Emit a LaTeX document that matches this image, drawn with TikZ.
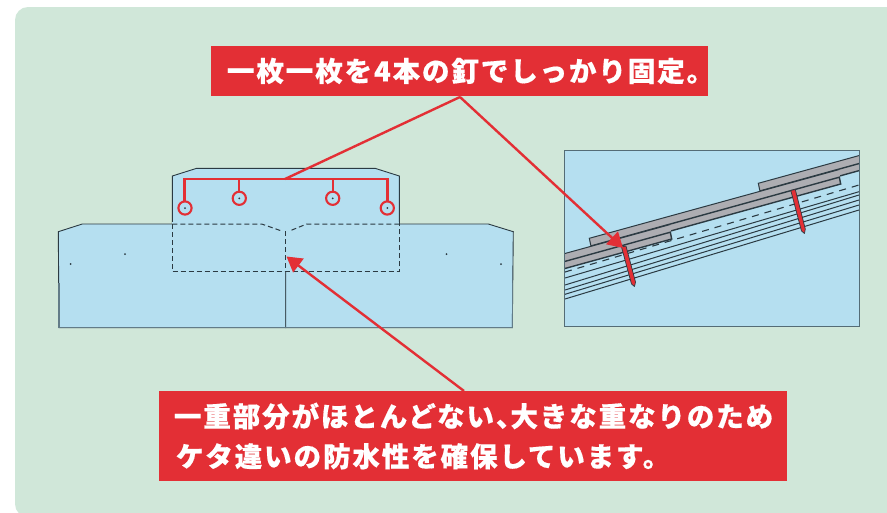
\documentclass[tikz,border=0pt]{standalone}
\usepackage{fontspec}
\newfontfamily\jpfont[LetterSpace=6.9,BoldFeatures={FakeBold=0.5}]{Noto Sans CJK JP}
\usetikzlibrary{arrows.meta}
\definecolor{panelgreen}{HTML}{D0E7D9}
\definecolor{tileblue}{HTML}{B5DFF0}
\definecolor{markred}{HTML}{E32F35}
\definecolor{slategray}{HTML}{ADADB2}
\definecolor{inkdark}{HTML}{2B3A42}
\tikzset{
	planline/.style={draw=inkdark, line width=0.9pt},
	hiddenline/.style={draw=inkdark, line width=1pt, dash pattern=on 5pt off 3pt},
	redline/.style={draw=markred, line width=2.4pt},
	redarrow/.style={redline, -{Triangle[length=15pt,width=17pt]}},
	notebox/.style={fill=markred, text=white, inner sep=0pt, font=\jpfont\bfseries\fontsize{27.5}{40}\selectfont},
	pinmark/.style={draw=markred, line width=2.1pt},
	nailbody/.style={fill=markred, draw=inkdark, line width=0.7pt, line join=round}
}
\def\pin(#1,#2){\draw[pinmark] (#1,#2) circle (6.6); \fill[inkdark] (#1,#2) circle (1);}
\def\tile(#1,#2){\begin{scope}[shift={(#1,#2)}]
	\fill[slategray] (589.3,238.3) -- (839.3,169.5) -- (840.7,184) -- (591,253) -- cycle;
	\draw[inkdark, line width=1pt] (591,246) -- (589.3,238.3) -- (839.3,169.5);
	\draw[inkdark, line width=1.4pt] (591,246) -- (839.3,177.2) -- (840.7,184) -- (591,253);
	\end{scope}}
\begin{document}
\begin{tikzpicture}[x=1pt, y=-1pt]
	\useasboundingbox (0,0) rectangle (887,512);
	\fill[white] (0,0) rectangle (887,512);
	\fill[panelgreen, rounded corners=13pt] (15,7) rectangle (930,517);

	%%%%% plan view %%%%%
	\filldraw[fill=tileblue, planline] (58.3,231.7) -- (82.3,224) -- (285.7,224) -- (285.7,327.7) -- (59,327.7) -- cycle;
	\filldraw[fill=tileblue, planline] (513.3,231.7) -- (488.3,224) -- (285.7,224) -- (285.7,327.7) -- (512.3,327.7) -- cycle;
	\draw[inkdark!60!tileblue, line width=1.5pt] (59,283) -- (59,327.7) -- (512.3,327.7) -- (512.3,283);
	\filldraw[fill=tileblue, planline] (172.3,224) -- (172.3,176) -- (196.7,168.3) -- (375,168.3) -- (399.3,176) -- (399.3,224);
	\fill[tileblue] (172.3,222) rectangle (399.3,271.7);
	\draw[hiddenline] (172.3,224) -- (172.3,271.7) -- (399.3,271.7) -- (399.3,224);
	\draw[hiddenline] (172.3,224) -- (261.7,224) -- (281.7,231);
	\draw[hiddenline] (399.3,224) -- (306.7,224) -- (290.7,230.5);
	\draw[hiddenline] (285.7,231) -- (285.7,272);

	\fill[inkdark] (70.7,264) circle (1);
	\fill[inkdark] (125,254) circle (1);
	\fill[inkdark] (446.5,254) circle (1);
	\fill[inkdark] (501,264) circle (1);

	\pin(185,208)
	\pin(239.3,198.3)
	\pin(332.7,198.3)
	\pin(387.3,208)
	\draw[redline] (184.3,201.5) -- (184.3,179) -- (387.3,179) -- (387.3,201.5);
	\draw[redline] (239,179) -- (239,191.5);
	\draw[redline] (333,179) -- (333,191.5);

	%%%%% section view %%%%%
	\fill[tileblue] (564.8,150) rectangle (859,326);
	\begin{scope}
		\clip (564.8,150) rectangle (859,326);
		\draw[inkdark, line width=1.1pt, dash pattern=on 7pt off 6pt] (565,272) -- (859,185);
		\draw[inkdark, line width=1pt] (565,278) -- (859,191.7);
		\draw[inkdark, line width=1pt] (565,285) -- (859,195);
		\draw[inkdark, line width=1pt] (565,290) -- (859,200);
		\draw[inkdark, line width=1pt] (565,294.3) -- (859,205);
		\draw[inkdark, line width=1pt] (565,299) -- (859,210);
		\tile(169,-55)
		\tile(0,0)
		\tile(-169,55)
		\filldraw[nailbody] (621.5,247) -- (626,246) -- (635.5,282) -- (634.5,286.5) -- (631.5,284) -- cycle;
		\filldraw[nailbody] (790.8,190.5) -- (795.3,189.5) -- (805.3,229) -- (804.5,233.5) -- (801.5,231) -- cycle;
	\end{scope}
	\draw[inkdark!70!tileblue, line width=0.9pt] (564.8,150) rectangle (859,326);

	%%%%% notes %%%%%
	\node[notebox, text width=497pt, minimum height=50pt] (fixnote) at (459.5,71) {\hspace*{16pt}一枚一枚を4本の釘でしっかり固定。\kern-12pt};
	\node[notebox, text width=628pt, minimum height=90pt] (gapnote) at (473,436) {\hspace*{15pt}一重部分がほとんどない、\kern-13pt 大きな重なりのため\\\hspace*{17pt}ケタ違いの防水性を確保しています。};

	\coordinate (fixfoot) at (460,97);
	\coordinate (bracketmid) at (285,179);
	\coordinate (nailhead) at (623,248);
	\coordinate (gapfoot) at (464,391);
	\coordinate (seam) at (286.5,256.5);
	\draw[redline] (fixfoot) -- (bracketmid);
	\draw[redarrow] (fixfoot) -- (nailhead);
	\draw[redarrow] (gapfoot) -- (seam);
\end{tikzpicture}
\end{document}
